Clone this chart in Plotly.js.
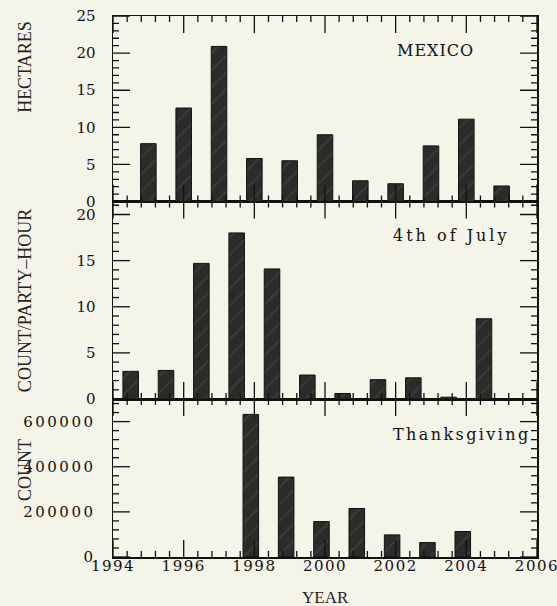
<!DOCTYPE html>
<html>
<head>
<meta charset="utf-8">
<script src="https://cdn.plot.ly/plotly-3.0.1.min.js"></script>
<style>
html,body{margin:0;padding:0;background:#f4f4e8;}
#chart{width:557px;height:606px;}
.ytick text{letter-spacing:2.5px;}
.xtick text{letter-spacing:1.5px;}
</style>
</head>
<body>
<div id="chart"></div>
<script>
// Mexico (hectares)
const mexicoYears = [1995, 1996, 1997, 1998, 1999, 2000, 2001, 2002, 2003, 2004, 2005];
const mexicoHectares = [7.8, 12.6, 20.9, 5.8, 5.5, 9.0, 2.8, 2.4, 7.5, 11.1, 2.1];

// 4th of July (count/party-hour)
const julyYears = [1994.5, 1995.5, 1996.5, 1997.5, 1998.5, 1999.5, 2000.5, 2001.5, 2002.5, 2003.5, 2004.5];
const julyCounts = [3.0, 3.1, 14.7, 18.0, 14.1, 2.6, 0.6, 2.1, 2.3, 0.2, 8.7];

// Thanksgiving (count)
const thanksYears = [1997.9, 1998.9, 1999.9, 2000.9, 2001.9, 2002.9, 2003.9];
const thanksCounts = [632000, 354000, 157000, 215000, 98000, 64000, 113000];

const panelLabels = ["MEXICO", "4th of July", "Thanksgiving"];
const yTitles = ["HECTARES", "COUNT/PARTY\u2013HOUR", "COUNT"];
const xTitle = "YEAR";

const serif = "DejaVu Serif, serif";
const lserif = "Liberation Serif, serif";
const ink = "#111";
const W = 557, H = 606, M = {l: 113, r: 20, t: 16, b: 49};
const plotW = W - M.l - M.r, plotH = H - M.t - M.b;

const barMarker = {
  color: "#2b2b29",
  line: {color: ink, width: 1},
  pattern: {shape: "/", fgcolor: "#3d3d39", bgcolor: "#2b2b29", size: 12, solidity: 0.15}
};
const bw = 0.44;

const xRange = [1993.999, 2006.001];
const xMajor = 2, xMinor = 0.4;
const MAJ = 17, MIN = 6;
const panels = [
  {xa: "x", ya: "y", dom: [0, 0.292], yRange: [0, 700000], yMajor: 200000, yMinor: 40000},
  {xa: "x2", ya: "y2", dom: [0.292, 0.657], yRange: [0, 21.4], yMajor: 5, yMinor: 1},
  {xa: "x3", ya: "y3", dom: [0.657, 1], yRange: [0, 25], yMajor: 5, yMinor: 1}
];

function steps(lo, hi, st) {
  const out = [];
  const n = Math.floor((hi - lo) / st + 1e-6);
  for (let i = 0; i <= n; i++) out.push(Math.round((lo + i * st) * 1000) / 1000);
  return out;
}
function isMultiple(v, st) { return Math.abs(v / st - Math.round(v / st)) < 1e-6; }

// tick marks drawn as line segments in each panel's own axis units
function tickTrace(p) {
  const xs = [], ys = [];
  const xPerPx = (xRange[1] - xRange[0]) / plotW;
  const yPerPx = (p.yRange[1] - p.yRange[0]) / ((p.dom[1] - p.dom[0]) * plotH);
  steps(1994, 2006, xMinor).forEach(function (v) {
    const len = (isMultiple(v - 1994, xMajor) ? MAJ : MIN) * yPerPx;
    xs.push(v, v, null, v, v, null);
    ys.push(p.yRange[0], p.yRange[0] + len, null, p.yRange[1], p.yRange[1] - len, null);
  });
  steps(p.yRange[0], p.yRange[1], p.yMinor).forEach(function (v) {
    const len = (isMultiple(v, p.yMajor) ? MAJ : MIN) * xPerPx;
    xs.push(xRange[0], xRange[0] + len, null, xRange[1], xRange[1] - len, null);
    ys.push(v, v, null, v, v, null);
  });
  return {type: "scatter", mode: "lines", x: xs, y: ys, xaxis: p.xa, yaxis: p.ya,
    line: {color: ink, width: 1.3}, hoverinfo: "skip", showlegend: false, connectgaps: false};
}

const traces = [
  {type: "bar", x: mexicoYears, y: mexicoHectares, xaxis: "x3", yaxis: "y3", width: bw, marker: barMarker},
  {type: "bar", x: julyYears, y: julyCounts, xaxis: "x2", yaxis: "y2", width: bw, marker: barMarker},
  {type: "bar", x: thanksYears, y: thanksCounts, xaxis: "x", yaxis: "y", width: bw, marker: barMarker}
].concat(panels.map(tickTrace));

const tickFont = {family: serif, size: 15, color: ink};
function xax(anchor, labels) {
  const a = {
    anchor: anchor, domain: [0, 1], range: xRange, dtick: xMajor, tick0: 1994,
    showline: true, linecolor: ink, linewidth: 1.5, mirror: true, ticks: "",
    showticklabels: labels, tickfont: tickFont, ticklabeloverflow: "allow",
    showgrid: false, zeroline: false, fixedrange: true
  };
  if (labels) a.ticklabelstandoff = -6;
  return a;
}
function yax(p) {
  return {
    anchor: p.xa, domain: p.dom, range: p.yRange, dtick: p.yMajor, tick0: 0,
    showline: true, linecolor: ink, linewidth: 1.5, mirror: true, ticks: "",
    tickfont: tickFont, tickformat: "d", ticklabelstandoff: 13, ticklabeloverflow: "allow",
    showgrid: false, zeroline: false, fixedrange: true
  };
}

const ttl = (t, y) => ({text: t, xref: "paper", yref: "paper", x: -0.2075, y: y, xanchor: "center", yanchor: "middle", textangle: -90, showarrow: false, font: {family: lserif, size: 18, color: "#222"}});

const layout = {
  width: W, height: H,
  margin: M,
  paper_bgcolor: "#f4f4e8", plot_bgcolor: "#f4f4e8",
  showlegend: false, bargap: 0,
  xaxis: xax("y", true),
  xaxis2: xax("y2", false),
  xaxis3: xax("y3", false),
  yaxis: yax(panels[0]),
  yaxis2: yax(panels[1]),
  yaxis3: yax(panels[2]),
  annotations: [
    {text: '<span style="letter-spacing:1px">' + panelLabels[0] + '</span>', xref: "x3", yref: "y3", x: 2003.14, y: 20.4, showarrow: false, font: {family: serif, size: 16, color: ink}},
    {text: '<span style="letter-spacing:3px">' + panelLabels[1] + '</span>', xref: "x2", yref: "y2", x: 2005.3, y: 17.7, xanchor: "right", showarrow: false, font: {family: serif, size: 16, color: ink}},
    {text: '<span style="letter-spacing:2.4px">' + panelLabels[2] + '</span>', xref: "x", yref: "y", x: 2005.9, y: 545000, xanchor: "right", showarrow: false, font: {family: serif, size: 16, color: ink}},
    ttl(yTitles[0], 0.906), ttl(yTitles[1], 0.473), ttl(yTitles[2], 0.161),
    {text: xTitle, xref: "paper", yref: "paper", x: 0.5, y: -0.075, xanchor: "center", yanchor: "middle", showarrow: false, font: {family: lserif, size: 17, color: "#222"}}
  ]
};

Plotly.newPlot("chart", traces, layout, {staticPlot: true, displayModeBar: false});
</script>
</body>
</html>
